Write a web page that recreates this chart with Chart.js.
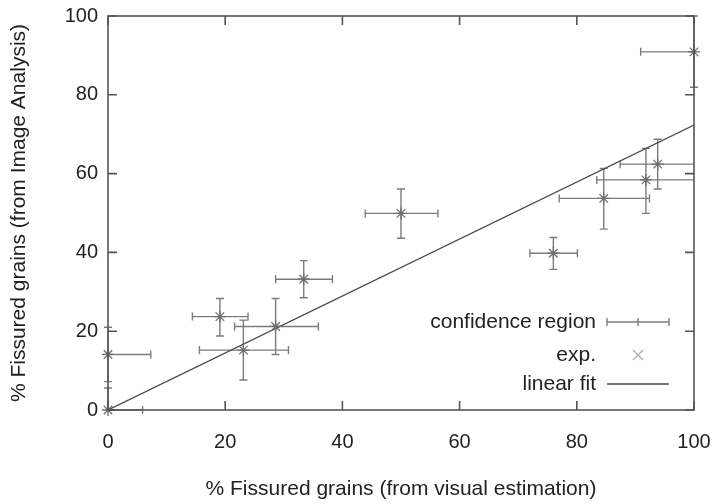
<!DOCTYPE html>
<html>
<head>
<meta charset="utf-8">
<script src="https://cdn.jsdelivr.net/npm/chart.js@4.4.1/dist/chart.umd.min.js"></script>
<style>
  html, body { margin: 0; padding: 0; background: #fff; }
  #wrap { width: 714px; height: 504px; }
</style>
</head>
<body>
<div id="wrap"><canvas id="chart"></canvas></div>
<script>
// ── Data ─────────────────────────────────────────────────
const xVals  = [0, 0, 19.1, 23.1, 28.6, 33.4, 50.0, 76.0, 84.6, 91.8, 93.8, 100];
const yVals  = [0, 14.1, 23.7, 15.2, 21.2, 33.2, 49.9, 39.8, 53.7, 58.4, 62.4, 90.9];
const xLow   = [-5.9, -7.3, 14.4, 15.6, 21.6, 28.6, 43.9, 72.0, 77.0, 83.4, 87.4, 90.9];
const xHigh  = [5.9, 7.3, 23.9, 30.8, 35.9, 38.3, 56.3, 80.1, 92.4, 105, 105, 109.1];
const yLow   = [-5.6, 7.2, 18.8, 7.6, 14.1, 28.5, 43.6, 35.7, 45.9, 49.9, 56.1, 81.9];
const yHigh  = [5.6, 21.0, 28.3, 22.8, 28.3, 37.9, 56.1, 43.8, 61.3, 66.4, 68.7, 100];
const fitX   = [0, 100];
const fitY   = [0, 72.3];
const tickValues = [0, 20, 40, 60, 80, 100];

const FONT = "'Liberation Sans', Arial, Helvetica, sans-serif";
const INK = "#222";
const BAR = "#7c7c7c";
const AXIS = "#555";

// ── Helpers ──────────────────────────────────────────────
const clamp = (v, lo, hi) => Math.max(lo, Math.min(hi, v));

function drawErrorBars(chart) {
  const { ctx, chartArea: a, scales: { x, y } } = chart;
  const cap = 4;
  ctx.save();
  ctx.strokeStyle = BAR;
  ctx.lineWidth = 1.4;
  ctx.beginPath();
  xVals.forEach((xv, i) => {
    const px = x.getPixelForValue(xv);
    const py = y.getPixelForValue(yVals[i]);
    const x0 = x.getPixelForValue(xLow[i]);
    const x1 = x.getPixelForValue(xHigh[i]);
    const y0 = y.getPixelForValue(yLow[i]);
    const y1 = y.getPixelForValue(yHigh[i]);
    // horizontal bar, clipped to the plot box
    ctx.moveTo(clamp(x0, a.left, a.right), py);
    ctx.lineTo(clamp(x1, a.left, a.right), py);
    [x0, x1].forEach((cx) => {
      if (cx >= a.left - 0.5 && cx <= a.right + 0.5) {
        ctx.moveTo(cx, py - cap); ctx.lineTo(cx, py + cap);
      }
    });
    // vertical bar
    ctx.moveTo(px, clamp(y0, a.top, a.bottom));
    ctx.lineTo(px, clamp(y1, a.top, a.bottom));
    [y0, y1].forEach((cy) => {
      if (cy >= a.top - 0.5 && cy <= a.bottom + 0.5) {
        ctx.moveTo(px - cap, cy); ctx.lineTo(px + cap, cy);
      }
    });
  });
  ctx.stroke();
  ctx.restore();
}

function drawFrame(chart) {
  const { ctx, chartArea: a, scales: { x, y } } = chart;
  const len = 9;
  ctx.save();
  ctx.strokeStyle = AXIS;
  ctx.lineWidth = 1.6;
  ctx.strokeRect(a.left, a.top, a.right - a.left, a.bottom - a.top);
  ctx.beginPath();
  tickValues.forEach((v) => {
    const px = x.getPixelForValue(v);
    const py = y.getPixelForValue(v);
    ctx.moveTo(px, a.bottom); ctx.lineTo(px, a.bottom - len);
    ctx.moveTo(px, a.top); ctx.lineTo(px, a.top + len);
    ctx.moveTo(a.left, py); ctx.lineTo(a.left + len, py);
    ctx.moveTo(a.right, py); ctx.lineTo(a.right - len, py);
  });
  ctx.stroke();
  ctx.restore();
}

function drawLegend(chart) {
  const { ctx } = chart;
  const textRight = 596;
  const s0 = 607, s1 = 669;
  const rows = [322, 355, 384];
  ctx.save();
  ctx.font = "21px " + FONT;
  ctx.fillStyle = INK;
  ctx.textAlign = "right";
  ctx.textBaseline = "middle";
  ctx.fillText("confidence region", textRight, rows[0]);
  ctx.fillText("exp.", textRight, rows[1]);
  ctx.fillText("linear fit", textRight, rows[2]);

  // errorbar sample
  ctx.strokeStyle = BAR;
  ctx.lineWidth = 1.4;
  ctx.beginPath();
  ctx.moveTo(s0, rows[0]); ctx.lineTo(s1, rows[0]);
  [s0, (s0 + s1) / 2, s1].forEach((cx) => {
    ctx.moveTo(cx, rows[0] - 4); ctx.lineTo(cx, rows[0] + 4);
  });
  ctx.stroke();

  // point sample
  const mx = (s0 + s1) / 2, r = 5;
  ctx.strokeStyle = "#aaa";
  ctx.lineWidth = 1.3;
  ctx.beginPath();
  ctx.moveTo(mx - r, rows[1] - r); ctx.lineTo(mx + r, rows[1] + r);
  ctx.moveTo(mx - r, rows[1] + r); ctx.lineTo(mx + r, rows[1] - r);
  ctx.stroke();

  // fit sample
  ctx.strokeStyle = "#4a4a4a";
  ctx.lineWidth = 1.3;
  ctx.beginPath();
  ctx.moveTo(s0, rows[2]); ctx.lineTo(s1, rows[2]);
  ctx.stroke();
  ctx.restore();
}

const gnuplotLook = {
  id: "gnuplotLook",
  beforeDatasetsDraw: drawErrorBars,
  afterDatasetsDraw(chart) {
    drawFrame(chart);
    drawLegend(chart);
  },
};

// ── Chart ────────────────────────────────────────────────
const tickFont = { family: FONT, size: 20 };
const titleFont = { family: FONT, size: 21 };

new Chart(document.getElementById("chart").getContext("2d"), {
  type: "scatter",
  data: {
    datasets: [
      {
        label: "exp.",
        data: xVals.map((v, i) => ({ x: v, y: yVals[i] })),
        pointStyle: "star",
        pointRadius: 6,
        borderColor: "#6e6e6e",
        backgroundColor: "#6e6e6e",
        borderWidth: 1.3,
        clip: false,
        order: 1,
      },
      {
        type: "line",
        label: "linear fit",
        data: fitX.map((v, i) => ({ x: v, y: fitY[i] })),
        borderColor: "#4a4a4a",
        borderWidth: 1.3,
        pointRadius: 0,
        fill: false,
        order: 2,
      },
    ],
  },
  options: {
    responsive: true,
    maintainAspectRatio: false,
    animation: false,
    layout: { padding: { top: 16, right: 20, left: 0, bottom: 0 } },
    plugins: { legend: { display: false }, tooltip: { enabled: false } },
    scales: {
      x: {
        type: "linear",
        min: 0, max: 100,
        ticks: { stepSize: 20, padding: 20, color: INK, font: tickFont, maxRotation: 0 },
        grid: { display: false, drawTicks: false },
        border: { display: false },
        title: {
          display: true,
          text: "% Fissured grains (from visual estimation)",
          color: INK, font: titleFont,
          padding: { top: 0, bottom: 2 },
        },
        afterFit: (s) => { s.height = 94; s.paddingLeft = 0; s.paddingRight = 0; },
      },
      y: {
        type: "linear",
        min: 0, max: 100,
        ticks: { stepSize: 20, padding: 10, color: INK, font: tickFont },
        grid: { display: false, drawTicks: false },
        border: { display: false },
        title: {
          display: true,
          text: "% Fissured grains (from Image Analysis)",
          color: INK, font: titleFont,
          padding: { top: 7, bottom: 0 },
        },
        afterFit: (s) => { s.width = 108; s.paddingTop = 0; s.paddingBottom = 0; },
      },
    },
  },
  plugins: [gnuplotLook],
});
</script>
</body>
</html>
